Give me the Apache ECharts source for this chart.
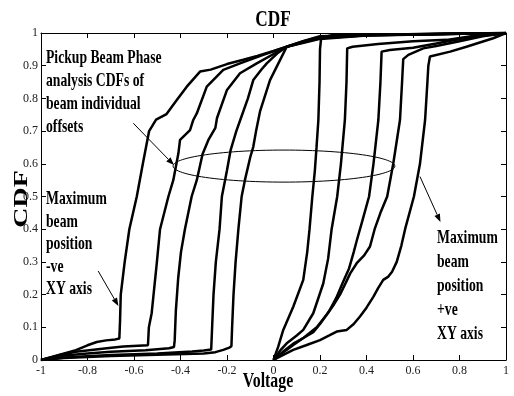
<!DOCTYPE html>
<html><head><meta charset="utf-8">
<script src="https://cdn.jsdelivr.net/npm/echarts@6/dist/echarts.min.js"></script>
<style>html,body{margin:0;padding:0;background:#fff}#c{width:514px;height:396px}</style>
</head><body><div id="c"></div>
<script>
const xTickLabels = ['-1','-0.8','-0.6','-0.4','-0.2','0','0.2','0.4','0.6','0.8','1'];
const yTickLabels = ['0','0.1','0.2','0.3','0.4','0.5','0.6','0.7','0.8','0.9','1'];

// negative-offset CDFs [voltage, cdf]
const neg1 = [[-1,0],[-0.95,0.01],[-0.9,0.02],[-0.85,0.03],[-0.8,0.045],[-0.76,0.055],[-0.72,0.06],[-0.68,0.063],[-0.663,0.066],[-0.66,0.12],[-0.657,0.2],[-0.64,0.3],[-0.62,0.4],[-0.588,0.5],[-0.562,0.6],[-0.535,0.7],[-0.505,0.735],[-0.46,0.752],[-0.416,0.795],[-0.373,0.836],[-0.316,0.882],[-0.27,0.888],[-0.2,0.905],[-0.13,0.918],[-0.07,0.93],[0,0.945],[0.057,0.958],[0.13,0.976],[0.2,0.99],[0.4,0.995],[1,1]];
const neg2 = [[-1,0],[-0.92,0.015],[-0.85,0.025],[-0.717,0.036],[-0.646,0.041],[-0.54,0.045],[-0.536,0.1],[-0.524,0.143],[-0.502,0.296],[-0.488,0.4],[-0.452,0.5],[-0.431,0.55],[-0.409,0.632],[-0.402,0.673],[-0.359,0.703],[-0.345,0.734],[-0.33,0.754],[-0.287,0.836],[-0.216,0.887],[-0.144,0.907],[-0.044,0.933],[0.057,0.958],[0.13,0.975],[0.2,0.988],[0.4,0.994],[1,1]];
const neg3 = [[-1,0],[-0.92,0.012],[-0.8,0.02],[-0.7,0.025],[-0.55,0.03],[-0.45,0.036],[-0.428,0.04],[-0.425,0.06],[-0.42,0.15],[-0.41,0.25],[-0.398,0.33],[-0.381,0.4],[-0.352,0.5],[-0.33,0.55],[-0.305,0.63],[-0.28,0.673],[-0.25,0.71],[-0.243,0.74],[-0.2,0.826],[-0.144,0.877],[-0.072,0.907],[0.057,0.958],[0.13,0.973],[0.2,0.985],[0.4,0.993],[1,1]];
const neg4 = [[-1,0],[-0.9,0.008],[-0.7,0.015],[-0.5,0.02],[-0.35,0.026],[-0.3,0.029],[-0.268,0.032],[-0.264,0.1],[-0.258,0.2],[-0.248,0.3],[-0.232,0.4],[-0.222,0.5],[-0.2,0.58],[-0.185,0.64],[-0.16,0.7],[-0.135,0.75],[-0.11,0.8],[-0.087,0.856],[-0.05,0.89],[-0.029,0.907],[0.02,0.94],[0.057,0.958],[0.13,0.972],[0.2,0.984],[0.4,0.993],[1,1]];
const neg5 = [[-1,0],[-0.9,0.006],[-0.7,0.012],[-0.5,0.016],[-0.3,0.02],[-0.25,0.024],[-0.216,0.031],[-0.19,0.038],[-0.181,0.042],[-0.178,0.1],[-0.172,0.2],[-0.163,0.3],[-0.151,0.4],[-0.137,0.5],[-0.123,0.55],[-0.1,0.62],[-0.087,0.652],[-0.075,0.7],[-0.058,0.76],[-0.015,0.856],[0.028,0.917],[0.057,0.958],[0.13,0.97],[0.2,0.982],[0.4,0.992],[1,1]];

// positive-offset CDFs [voltage, cdf]
const pos1 = [[0,0],[0.02,0.04],[0.042,0.092],[0.085,0.163],[0.128,0.245],[0.145,0.33],[0.155,0.4],[0.167,0.5],[0.178,0.58],[0.185,0.65],[0.193,0.734],[0.198,0.85],[0.2,0.95],[0.205,0.985],[0.25,0.993],[1,1]];
const pos2 = [[0,0],[0.03,0.03],[0.057,0.051],[0.1,0.075],[0.128,0.092],[0.171,0.143],[0.214,0.234],[0.235,0.31],[0.25,0.4],[0.274,0.5],[0.29,0.6],[0.307,0.734],[0.314,0.85],[0.317,0.953],[0.34,0.958],[0.45,0.966],[0.6,0.975],[0.745,0.979],[0.85,0.99],[1,1]];
const pos3 = [[0,0],[0.04,0.025],[0.085,0.05],[0.13,0.068],[0.171,0.085],[0.2,0.11],[0.24,0.15],[0.27,0.19],[0.3,0.24],[0.325,0.28],[0.345,0.33],[0.36,0.37],[0.38,0.42],[0.411,0.5],[0.43,0.6],[0.451,0.734],[0.46,0.85],[0.465,0.943],[0.5,0.948],[0.6,0.955],[0.7,0.968],[0.75,0.975],[0.85,0.988],[1,1]];
const pos4 = [[0,0],[0.04,0.022],[0.085,0.046],[0.13,0.068],[0.186,0.1],[0.23,0.14],[0.26,0.17],[0.286,0.2],[0.31,0.235],[0.33,0.265],[0.358,0.296],[0.39,0.32],[0.415,0.347],[0.435,0.4],[0.46,0.45],[0.489,0.5],[0.515,0.6],[0.544,0.734],[0.553,0.85],[0.558,0.92],[0.58,0.933],[0.644,0.953],[0.7,0.96],[0.8,0.975],[0.9,0.99],[1,1]];
const pos5 = [[0,0],[0.04,0.015],[0.085,0.031],[0.14,0.045],[0.2,0.061],[0.24,0.075],[0.272,0.087],[0.315,0.092],[0.345,0.11],[0.372,0.133],[0.4,0.16],[0.43,0.194],[0.45,0.22],[0.472,0.245],[0.494,0.255],[0.51,0.27],[0.53,0.3],[0.55,0.35],[0.566,0.4],[0.604,0.5],[0.63,0.6],[0.652,0.734],[0.662,0.85],[0.666,0.9],[0.673,0.928],[0.76,0.943],[0.83,0.958],[0.945,0.984],[1,1]];

const curves = [neg1, neg2, neg3, neg4, neg5, pos1, pos2, pos3, pos4, pos5];

const titleText = 'CDF';
const xAxisName = 'Voltage';
const yAxisName = 'CDF';
const noteTop = ['Pickup Beam Phase','analysis CDFs of','beam individual','offsets'];
const noteLeft = ['Maximum','beam','position','-ve','XY axis'];
const noteRight = ['Maximum','beam','position','+ve','XY axis'];

const chart = echarts.init(document.getElementById('c'));
const axisCommon = {
  type: 'value', min: -1, max: 1, interval: 0.2,
  axisLine: { show: true, onZero: false, lineStyle: { color: '#000', width: 1 } },
  axisTick: { show: true, inside: true, length: 5, lineStyle: { color: '#000' } },
  splitLine: { show: false }
};
const labelFont = { fontFamily: 'Liberation Serif', fontSize: 12, color: '#222' };

chart.setOption({
  animation: false,
  backgroundColor: '#fff',
  grid: { left: 41, right: 8, top: 33, bottom: 36, containLabel: false },
  xAxis: [
    Object.assign({}, axisCommon, { position: 'bottom',
      axisLabel: Object.assign({ margin: 5, formatter: (v, i) => xTickLabels[i] }, labelFont) }),
    Object.assign({}, axisCommon, { position: 'top', axisLabel: { show: false } })
  ],
  yAxis: [
    Object.assign({}, axisCommon, { min: 0, max: 1, interval: 0.1, position: 'left',
      axisLabel: Object.assign({ margin: 3, formatter: (v, i) => yTickLabels[i] }, labelFont) }),
    Object.assign({}, axisCommon, { min: 0, max: 1, interval: 0.1, position: 'right', axisLabel: { show: false } })
  ],
  series: curves.map(d => ({
    type: 'line', data: d, xAxisIndex: 0, yAxisIndex: 0,
    showSymbol: false, symbol: 'none', smooth: false,
    lineStyle: { color: '#000', width: 2.5 }, z: 3
  }))
});

const px = p => chart.convertToPixel({ gridIndex: 0 }, p);
const SX = 0.72;
function txt(s, x, y, size, align, extra) {
  return Object.assign({ type: 'text', x: x, y: y, scaleX: SX, z: 10,
    style: { text: s, fontFamily: 'Liberation Serif', fontWeight: 'bold', fontSize: size,
      fill: '#000', align: align, verticalAlign: 'middle' } }, extra || {});
}
function arrow(from, to) {
  const a = px(from), b = px(to);
  const dx = b[0] - a[0], dy = b[1] - a[1], L = Math.hypot(dx, dy);
  const ux = dx / L, uy = dy / L, hl = 8, hw = 3;
  const bx = b[0] - ux * hl, by = b[1] - uy * hl;
  return [
    { type: 'line', z: 10, shape: { x1: a[0], y1: a[1], x2: bx, y2: by }, style: { stroke: '#000', lineWidth: 1 } },
    { type: 'polygon', z: 10, shape: { points: [[b[0], b[1]], [bx - uy * hw, by + ux * hw], [bx + uy * hw, by - ux * hw]] }, style: { fill: '#000' } }
  ];
}
// annotation ellipse (center / radii in data units)
const ellC = px([0.045, 0.593]);
const ellE = px([0.045 + 0.477, 0.593 + 0.049]);
const rx = ellE[0] - ellC[0], ry = ellC[1] - ellE[1];
const ellPts = [];
for (let k = 0; k < 120; k++) { const t = k / 120 * Math.PI * 2; ellPts.push([ellC[0] + rx * Math.cos(t), ellC[1] + ry * Math.sin(t)]); }

const g = [];
g.push(txt(titleText, 273, 20, 24, 'center'));
g.push(txt(xAxisName, 268, 381.5, 22, 'center'));
g.push({ type: 'text', x: 22, y: 199, rotation: Math.PI / 2, scaleX: 1.55, z: 10,
  style: { text: yAxisName, fontFamily: 'Liberation Serif', fontWeight: 'bold', fontSize: 18, fill: '#000', align: 'center', verticalAlign: 'middle' } });
noteTop.forEach((s, i) => g.push(txt(s, 46, 58 + i * 23, 19, 'left')));
noteLeft.forEach((s, i) => g.push(txt(s, 46, 199 + i * 22.6, 19, 'left')));
noteRight.forEach((s, i) => g.push(txt(s, 437, 238.5 + i * 24, 19, 'left')));
g.push({ type: 'polygon', z: 9, shape: { points: ellPts }, style: { fill: 'none', stroke: '#000', lineWidth: 1 } });
arrow([-0.603, 0.724], [-0.428, 0.596]).forEach(e => g.push(e));
arrow([-0.754, 0.272], [-0.667, 0.165]).forEach(e => g.push(e));
arrow([0.630, 0.561], [0.718, 0.422]).forEach(e => g.push(e));
chart.setOption({ graphic: { elements: g } });
</script></body></html>
